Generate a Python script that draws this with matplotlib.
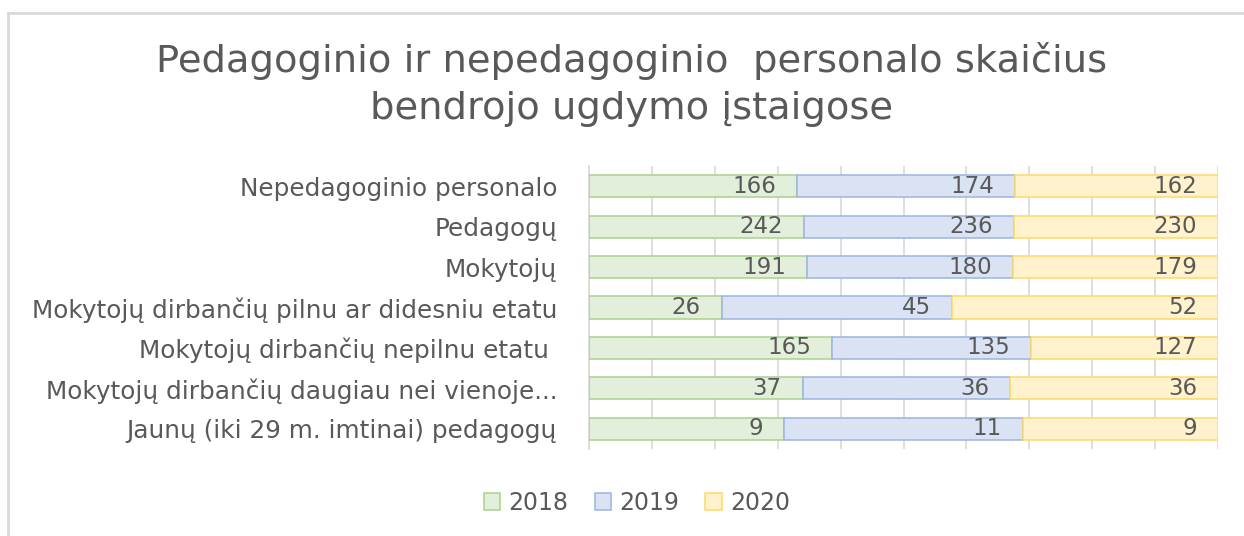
import matplotlib
matplotlib.use("Agg")
import matplotlib.pyplot as plt
from matplotlib.patches import Patch
from matplotlib.lines import Line2D

categories = [
    "Nepedagoginio personalo",
    "Pedagogų",
    "Mokytojų",
    "Mokytojų dirbančių pilnu ar didesniu etatu",
    "Mokytojų dirbančių nepilnu etatu ",
    "Mokytojų dirbančių daugiau nei vienoje...",
    "Jaunų (iki 29 m. imtinai) pedagogų",
]
years = ["2018", "2019", "2020"]
v2018 = [166, 242, 191, 26, 165, 37, 9]
v2019 = [174, 236, 180, 45, 135, 36, 11]
v2020 = [162, 230, 179, 52, 127, 36, 9]

fills = ["#E2EFDA", "#DAE3F3", "#FFF2CC"]
edges = ["#A9D18E", "#9DB4E0", "#FFD966"]
txt = "#595959"
font = "DejaVu Sans"

W, H = 1244, 536
fig = plt.figure(figsize=(W / 100, H / 100), dpi=100)
ax = fig.add_axes([589 / W, 1 - 449 / H, (1218 - 589) / W, (449 - 166) / H])

series = [v2018, v2019, v2020]
totals = [sum(t) for t in zip(*series)]
ypos = list(range(len(categories)))
left = [0.0] * len(categories)
for vals, fc, ec in zip(series, fills, edges):
    shares = [v / t for v, t in zip(vals, totals)]
    ax.barh(ypos, shares, left=left, height=0.55, color=fc, edgecolor=ec,
            linewidth=1.1, zorder=3)
    for y, l, s, v in zip(ypos, left, shares, vals):
        ax.annotate(str(v), (l + s, y), xytext=(-21, 0), textcoords="offset pixels",
                    ha="right", va="center", fontsize=16.5, color=txt,
                    family=font, zorder=4)
    left = [l + s for l, s in zip(left, shares)]

ax.set_xlim(0, 1)
ax.set_ylim(len(categories) - 0.5, -0.5)
ax.set_xticks([i / 10 for i in range(11)])
ax.set_xticklabels([])
ax.tick_params(axis="x", length=0)
ax.grid(axis="x", color="#D9D9D9", linewidth=1.2, zorder=0)
ax.set_yticks(ypos)
ax.set_yticklabels(categories, fontsize=17.8, color=txt, family=font)
ax.tick_params(axis="y", length=0, pad=23)
for side in ["top", "right", "bottom"]:
    ax.spines[side].set_visible(False)
ax.spines["left"].set_color("#D9D9D9")
ax.spines["left"].set_linewidth(1.2)

fig.text(632 / W, 1 - 61 / H, "Pedagoginio ir nepedagoginio  personalo skaičius",
         ha="center", va="center", fontsize=27.7, color=txt, family=font)
fig.text(632 / W, 1 - 109 / H, "bendrojo ugdymo įstaigose",
         ha="center", va="center", fontsize=27.7, color=txt, family=font)

handles = [Patch(facecolor=fc, edgecolor=ec, linewidth=1.1) for fc, ec in zip(fills, edges)]
fig.legend(handles, years, loc="center", bbox_to_anchor=(637 / W, 1 - 503 / H),
           ncol=3, frameon=False, handlelength=0.7, handleheight=0.7,
           handletextpad=0.35, columnspacing=1.1,
           prop={"family": font, "size": 17}, labelcolor=txt)

# chart area border (top and left edges visible)
fig.add_artist(Line2D([8 / W, 1], [1 - 13 / H, 1 - 13 / H], color="#D9D9D9", linewidth=2))
fig.add_artist(Line2D([8 / W, 8 / W], [0, 1 - 13 / H], color="#D9D9D9", linewidth=2))

plt.savefig("out.png", dpi=100)
